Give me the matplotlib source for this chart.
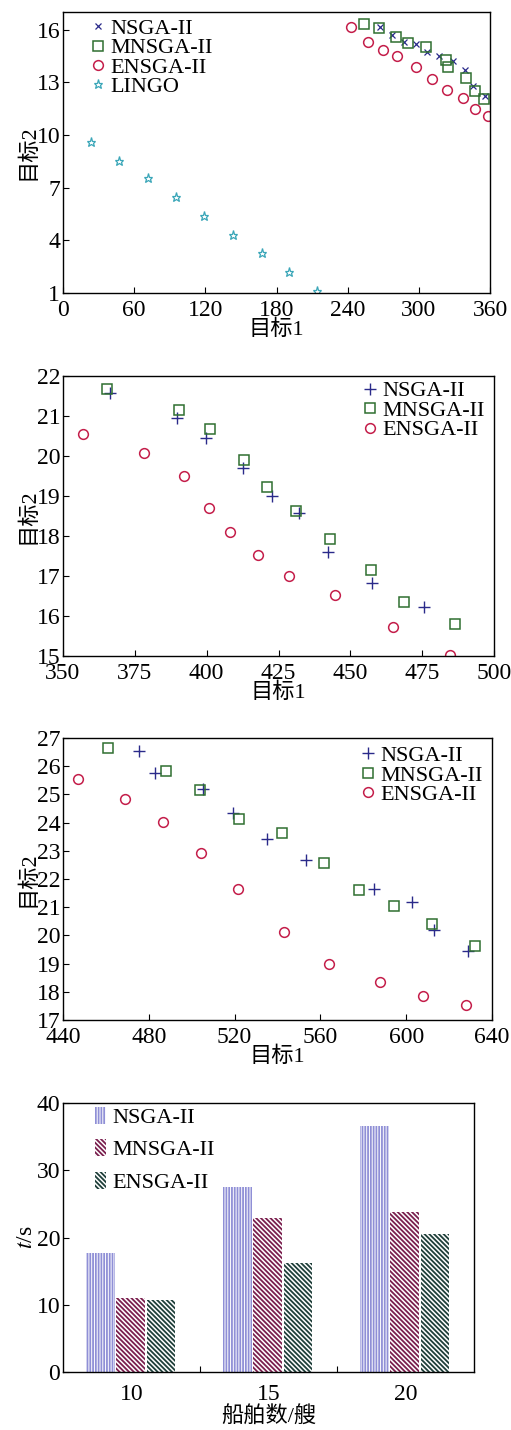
import matplotlib
matplotlib.use("Agg")
import matplotlib.pyplot as plt
import numpy as np

plt.rcParams["font.family"] = ["Liberation Serif", "Noto Sans CJK SC"]
plt.rcParams["mathtext.fontset"] = "stix"
plt.rcParams["hatch.linewidth"] = 1.3

# Panel 1 (10 ships)
p1_nsga_x = [267.3, 277.4, 287.5, 297.4, 307.2, 316.8, 329.1, 339.2, 345.5, 356.1]
p1_nsga_y = [16.17, 15.68, 15.32, 15.16, 14.71, 14.47, 14.20, 13.67, 12.76, 12.21]
p1_mnsga_x = [254.0, 266.7, 280.8, 290.6, 305.8, 322.7, 324.9, 340.1, 347.6, 355.0]
p1_mnsga_y = [16.32, 16.10, 15.60, 15.24, 14.98, 14.28, 13.86, 13.23, 12.48, 12.02]
p1_ensga_x = [242.6, 256.9, 270.0, 281.9, 297.4, 311.1, 323.5, 337.5, 347.6, 358.6]
p1_ensga_y = [16.13, 15.32, 14.86, 14.47, 13.84, 13.16, 12.55, 12.10, 11.47, 11.10]
p1_lingo_x = [23.3, 47.5, 71.4, 95.3, 119.1, 143.1, 167.5, 190.6, 214.2]
p1_lingo_y = [9.58, 8.52, 7.57, 6.47, 5.39, 4.31, 3.27, 2.19, 1.13]

# Panel 2 (15 ships)
p2_nsga_x = [366.5, 389.8, 399.8, 412.6, 422.6, 432.2, 442.1, 457.7, 475.7]
p2_nsga_y = [21.58, 20.94, 20.44, 19.70, 19.00, 18.58, 17.60, 16.83, 16.23]
p2_mnsga_x = [365.3, 390.2, 401.2, 412.9, 421.0, 431.0, 443.0, 457.2, 468.8, 486.6]
p2_mnsga_y = [21.68, 21.14, 20.67, 19.91, 19.22, 18.63, 17.93, 17.15, 16.36, 15.81]
p2_ensga_x = [356.8, 378.1, 392.1, 400.7, 408.0, 417.9, 428.7, 444.7, 464.7, 484.7]
p2_ensga_y = [20.55, 20.08, 19.50, 18.69, 18.09, 17.52, 17.00, 16.53, 15.72, 15.02]

# Panel 3 (20 ships)
p3_nsga_x = [475.2, 483.0, 505.5, 519.4, 535.1, 553.1, 585.2, 602.8, 612.8, 628.7]
p3_nsga_y = [26.53, 25.75, 25.19, 24.34, 23.43, 22.67, 21.66, 21.19, 20.20, 19.44]
p3_mnsga_x = [460.8, 488.1, 504.1, 521.9, 542.1, 561.8, 577.9, 594.4, 611.9, 632.2]
p3_mnsga_y = [26.64, 25.83, 25.17, 24.12, 23.63, 22.56, 21.62, 21.05, 20.42, 19.64]
p3_ensga_x = [446.8, 468.7, 486.7, 504.5, 521.5, 543.0, 564.1, 587.9, 607.6, 627.9]
p3_ensga_y = [25.53, 24.83, 24.03, 22.92, 21.63, 20.11, 18.99, 18.35, 17.85, 17.52]

# Panel 4 (run time)
ships = ["10", "15", "20"]
time_nsga = [17.7, 27.5, 36.6]
time_mnsga = [11.0, 22.9, 23.8]
time_ensga = [10.7, 16.2, 20.5]

C_NSGA = "#2a2a8a"
C_MNSGA = "#2f6f30"
C_ENSGA = "#c41e4a"
C_LINGO = "#3aa6b8"
FS = 16
TFS = 17

W, H = 511, 1430
fig = plt.figure(figsize=(W / 100, H / 100), dpi=100)


def make_ax(left, right, top, bottom):
    return fig.add_axes([left / W, 1 - bottom / H, (right - left) / W, (bottom - top) / H])


def style(ax):
    ax.tick_params(direction="in", labelsize=TFS, top=False, right=False, length=4, pad=2)
    ax.tick_params(axis="x", pad=5)
    for s in ax.spines.values():
        s.set_linewidth(1.0)


def scatter_legend(ax, loc, anchor):
    return ax.legend(loc=loc, bbox_to_anchor=anchor, frameon=False, fontsize=FS,
                     handletextpad=0.05, handlelength=1.0, labelspacing=-0.05,
                     borderaxespad=0.2)


# Panel 1
ax1 = make_ax(63, 490, 12, 293)
ax1.plot(p1_nsga_x, p1_nsga_y, "x", ms=4, mew=0.9, color=C_NSGA, label="NSGA-II")
ax1.plot(p1_mnsga_x, p1_mnsga_y, "s", ms=7, mew=1.1, mfc="none", color=C_MNSGA, label="MNSGA-II")
ax1.plot(p1_ensga_x, p1_ensga_y, "o", ms=7, mew=1.1, mfc="none", color=C_ENSGA, label="ENSGA-II")
ax1.plot(p1_lingo_x, p1_lingo_y, "*", ms=6.5, mew=0.9, mfc="none", color=C_LINGO, label="LINGO")
ax1.set_xlim(0, 360)
ax1.set_ylim(1, 17)
ax1.set_xticks(np.arange(0, 361, 60))
ax1.set_yticks([1, 4, 7, 10, 13, 16])
style(ax1)
ax1.set_xlabel("目标1", fontsize=FS, labelpad=-1)
ax1.set_ylabel("目标2", fontsize=FS, labelpad=-1)
scatter_legend(ax1, "upper left", (0.025, 1.025))

# Panel 2
ax2 = make_ax(63, 494, 376, 656)
ax2.plot(p2_nsga_x, p2_nsga_y, "+", ms=8, mew=1.0, color=C_NSGA, label="NSGA-II")
ax2.plot(p2_mnsga_x, p2_mnsga_y, "s", ms=7, mew=1.1, mfc="none", color=C_MNSGA, label="MNSGA-II")
ax2.plot(p2_ensga_x, p2_ensga_y, "o", ms=7, mew=1.1, mfc="none", color=C_ENSGA, label="ENSGA-II")
ax2.set_xlim(350, 500)
ax2.set_ylim(15, 22)
ax2.set_xticks(np.arange(350, 501, 25))
ax2.set_yticks(np.arange(15, 23, 1))
style(ax2)
ax2.set_xlabel("目标1", fontsize=FS, labelpad=-1)
ax2.set_ylabel("目标2", fontsize=FS, labelpad=-1)
scatter_legend(ax2, "upper right", (1.01, 1.03))

# Panel 3
ax3 = make_ax(63, 492, 738, 1020)
ax3.plot(p3_nsga_x, p3_nsga_y, "+", ms=8, mew=1.0, color=C_NSGA, label="NSGA-II")
ax3.plot(p3_mnsga_x, p3_mnsga_y, "s", ms=7, mew=1.1, mfc="none", color=C_MNSGA, label="MNSGA-II")
ax3.plot(p3_ensga_x, p3_ensga_y, "o", ms=7, mew=1.1, mfc="none", color=C_ENSGA, label="ENSGA-II")
ax3.set_xlim(440, 640)
ax3.set_ylim(17, 27)
ax3.set_xticks(np.arange(440, 641, 40))
ax3.set_yticks(np.arange(17, 28, 1))
style(ax3)
ax3.set_xlabel("目标1", fontsize=FS, labelpad=-1)
ax3.set_ylabel("目标2", fontsize=FS, labelpad=-1)
scatter_legend(ax3, "upper right", (1.01, 1.02))

# Panel 4
ax4 = make_ax(63, 474, 1103, 1372)
x = np.arange(len(ships))
bw = 0.21
ax4.bar(x - 0.225, time_nsga, bw, color="white", edgecolor="#8f8fd6", hatch="||||||", lw=0, label="NSGA-II")
ax4.bar(x - 0.005, time_mnsga, bw, color="white", edgecolor="#7a1f4e", hatch="\\" * 7, lw=0, label="MNSGA-II")
ax4.bar(x + 0.215, time_ensga, bw, color="white", edgecolor="#1f3f3a", hatch="\\" * 7, lw=0, label="ENSGA-II")
ax4.set_xlim(-0.5, 2.5)
ax4.set_ylim(0, 40)
ax4.set_yticks(np.arange(0, 41, 10))
ax4.set_xticks([0.5, 1.5])
ax4.set_xticklabels([])
ax4.set_xticks(x, minor=True)
ax4.set_xticklabels(ships, minor=True)
style(ax4)
ax4.tick_params(axis="x", which="minor", length=0, pad=9, labelsize=TFS)
ax4.set_xlabel("船舶数/艘", fontsize=FS, labelpad=1)
ax4.set_ylabel("$t$/s", fontsize=TFS, labelpad=0)
ax4.legend(loc="upper left", bbox_to_anchor=(0.03, 1.06), frameon=False, fontsize=FS,
           handlelength=0.5, handleheight=0.8, handletextpad=0.25, labelspacing=0.5)

fig.savefig("out.png", dpi=100)
